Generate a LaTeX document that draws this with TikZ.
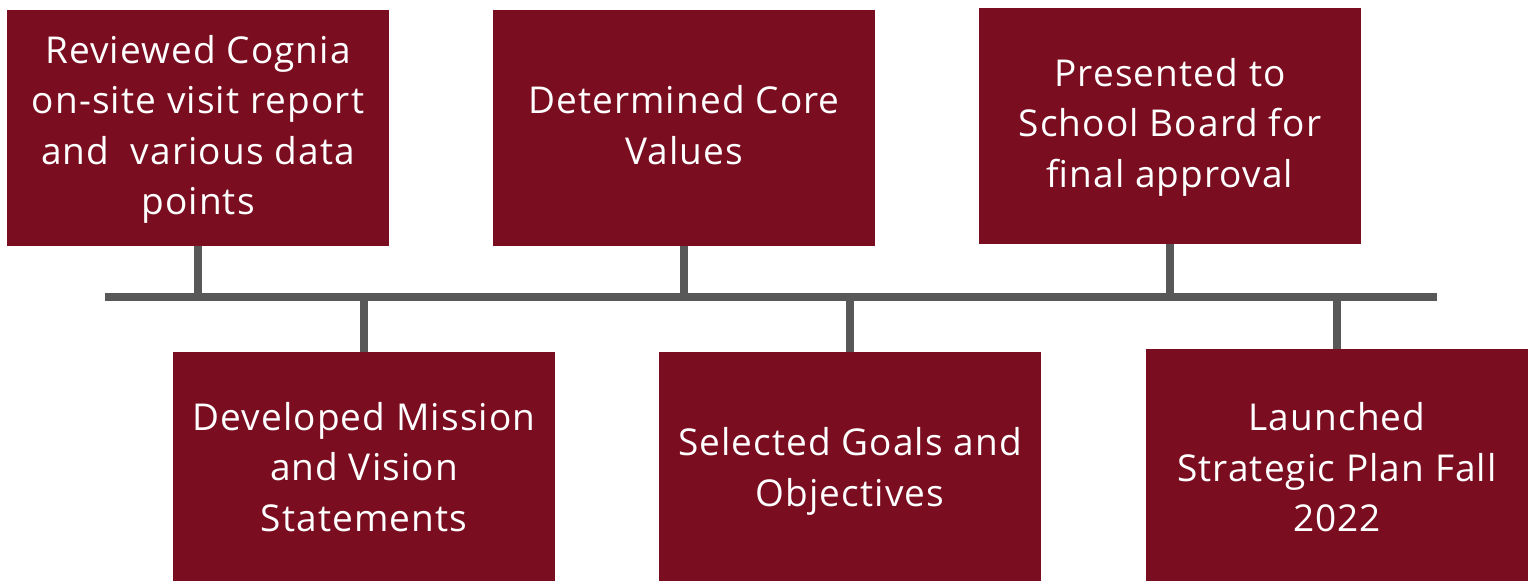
\documentclass[tikz,border=0pt]{standalone}
\usepackage{fontspec}
\setmainfont{Open Sans}[LetterSpace=3]
\definecolor{boxred}{RGB}{122,14,32}
\definecolor{linegray}{RGB}{88,88,88}
\newcommand\ls{\rule[-14.5pt]{0pt}{50.5pt}}
\begin{document}
\begin{tikzpicture}[x=1pt,y=-1pt,
  stepbox/.style={fill=boxred,draw=none,inner sep=0pt,minimum width=382pt,minimum height=236pt,
    text=white,align=center,font=\fontsize{37}{50.5}\selectfont},
  tick/.style={draw=linegray,line width=8pt}]
\useasboundingbox (0,0) rectangle (1535,581);
\clip (0,0) rectangle (1535,581);
\coordinate (L) at (105,296.5);
\coordinate (R) at (1437,296.5);
\node[stepbox] (b1) at (198,128) {\ls Reviewed Cognia\\on-site visit report\\and\ \ various data\\points\ls};
\node[stepbox] (b2) at (684,128) {\ls Determined Core\\Values\ls};
\node[stepbox] (b3) at (1170,126) {\ls Presented to\\School Board for\\final approval\ls};
\node[stepbox] (b4) at (364,470) {\ls Developed Mission\\and Vision\\Statements\ls};
\node[stepbox] (b5) at (850,470) {\ls Selected Goals and\\Objectives\ls};
\node[stepbox,minimum height=243pt] (b6) at (1337,470.5) {\ls Launched\\Strategic Plan Fall\\2022\ls};
\draw[tick] (L) -- (R);
\draw[tick] (b1.south) -- (b1.south |- L);
\draw[tick] (b2.south) -- (b2.south |- L);
\draw[tick] (b3.south) -- (b3.south |- L);
\draw[tick] (b4.north) -- (b4.north |- L);
\draw[tick] (b5.north) -- (b5.north |- L);
\draw[tick] (b6.north) -- (b6.north |- L);
\end{tikzpicture}
\end{document}
